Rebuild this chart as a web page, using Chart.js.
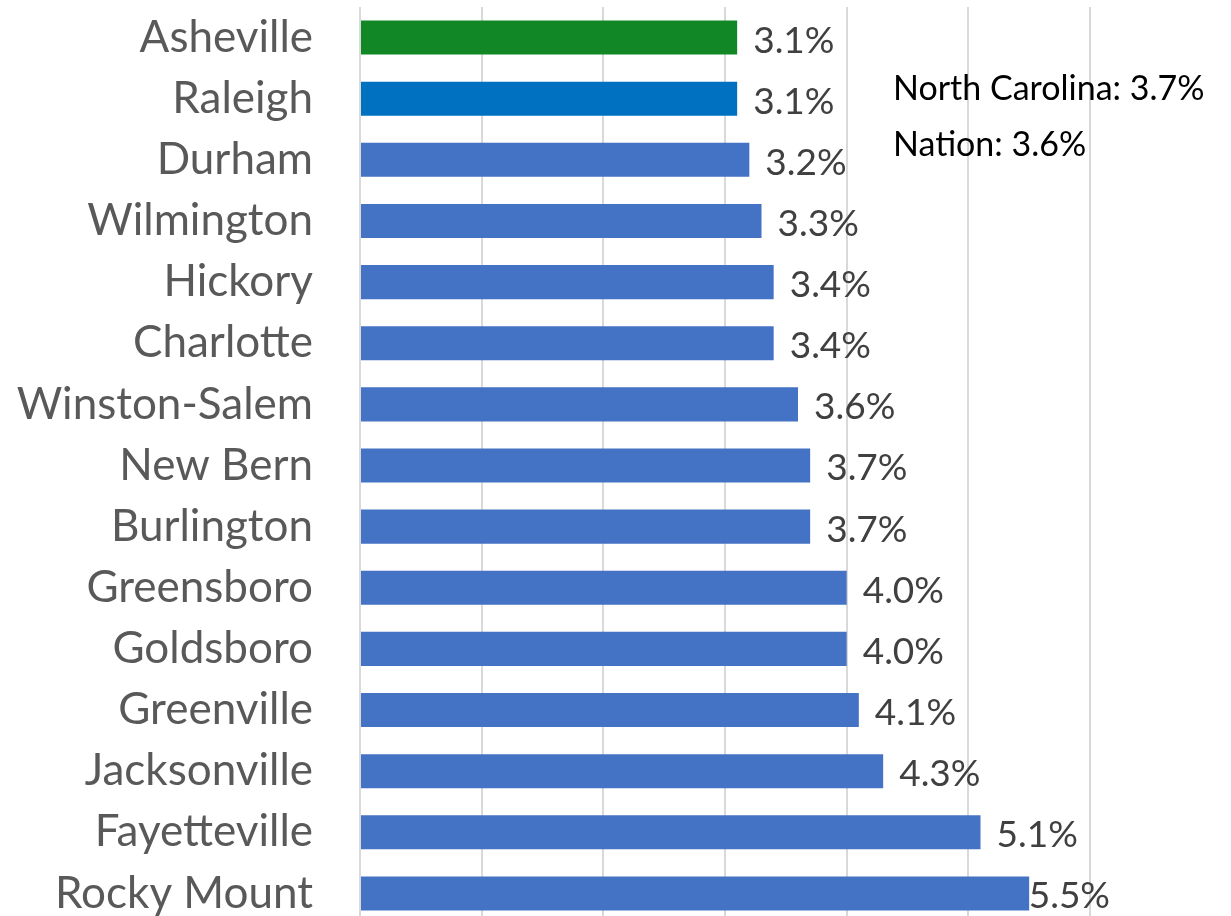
<!DOCTYPE html>
<html>
<head>
<meta charset="utf-8">
<script src="https://cdn.jsdelivr.net/npm/chart.js@4/dist/chart.umd.min.js"></script>
<style>
  html, body { margin: 0; padding: 0; background: #fff; overflow: hidden; }
  #wrap { width: 1231px; height: 924px; position: relative; }
</style>
</head>
<body>
<div id="wrap"><canvas id="rateChart"></canvas></div>
<script>
// Unemployment rate by metro area
const cities = ["Asheville", "Raleigh", "Durham", "Wilmington", "Hickory", "Charlotte",
    "Winston-Salem", "New Bern", "Burlington", "Greensboro", "Goldsboro", "Greenville",
    "Jacksonville", "Fayetteville", "Rocky Mount"];
const rates = [3.1, 3.1, 3.2, 3.3, 3.4, 3.4, 3.6, 3.7, 3.7, 4.0, 4.0, 4.1, 4.3, 5.1, 5.5];
const barColors = ["#118725", "#0070C0"].concat(Array(13).fill("#4472C4"));
const notes = ["North Carolina: 3.7%", "Nation: 3.6%"];

const FONT = "Lato, 'Open Sans', sans-serif";

// value labels to the right of each bar
const valueLabels = {
    id: 'valueLabels',
    afterDatasetsDraw(chart) {
        const ctx = chart.ctx;
        const meta = chart.getDatasetMeta(0);
        ctx.save();
        ctx.font = "37px " + FONT;
        ctx.fillStyle = "#404040";
        ctx.textBaseline = "middle";
        meta.data.forEach((bar, i) => {
            const txt = rates[i].toFixed(1) + "%";
            const w = ctx.measureText(txt).width;
            let x = bar.x + 16;
            if (x + w > chart.chartArea.right + 20) x = chart.chartArea.right + 20 - w;
            ctx.fillText(txt, x, bar.y + 3);
        });
        ctx.restore();
    }
};

const notesPlugin = {
    id: 'notes',
    afterDraw(chart) {
        const ctx = chart.ctx;
        ctx.save();
        ctx.font = "34px " + FONT;
        ctx.fillStyle = "#000";
        ctx.textBaseline = "middle";
        notes.forEach((t, i) => ctx.fillText(t, 893, 89 + i * 56));
        ctx.restore();
    }
};

new Chart(document.getElementById('rateChart'), {
    type: 'bar',
    data: {
        labels: cities,
        datasets: [{
            data: rates,
            backgroundColor: barColors,
            barPercentage: 0.557,
            categoryPercentage: 1.0
        }]
    },
    options: {
        indexAxis: 'y',
        responsive: true,
        maintainAspectRatio: false,
        animation: false,
        layout: { padding: { top: 7, right: 141, bottom: 0, left: 0 } },
        plugins: {
            legend: { display: false },
            tooltip: { enabled: false }
        },
        scales: {
            x: {
                min: 0,
                max: 6,
                ticks: { display: false, stepSize: 1 },
                grid: { color: "#d9d9d9", lineWidth: 2, drawTicks: false },
                border: { display: false }
            },
            y: {
                afterFit(scale) {
                    scale.width = 360;
                    scale.paddingTop = 0;
                    scale.paddingBottom = 0;
                },
                ticks: {
                    color: "#595959",
                    font: { family: FONT, size: 44 },
                    padding: 47
                },
                grid: { display: false, drawTicks: false },
                border: { display: false }
            }
        }
    },
    plugins: [valueLabels, notesPlugin]
});
</script>
</body>
</html>
